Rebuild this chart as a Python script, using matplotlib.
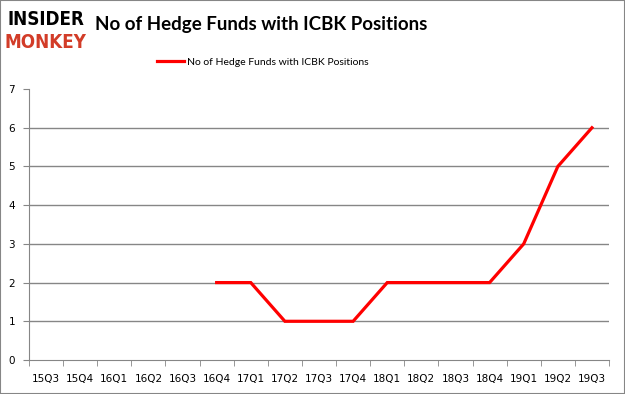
import matplotlib.pyplot as plt
from matplotlib.patches import Rectangle

quarters = ["15Q3", "15Q4", "16Q1", "16Q2", "16Q3", "16Q4", "17Q1", "17Q2", "17Q3",
            "17Q4", "18Q1", "18Q2", "18Q3", "18Q4", "19Q1", "19Q2", "19Q3"]
funds = [None, None, None, None, None, 2, 2, 1, 1, 1, 2, 2, 2, 2, 3, 5, 6]

fig = plt.figure(figsize=(6.25, 3.94), dpi=100)
ax = fig.add_axes([0.0464, 0.0863, 0.928, 0.6877])

xs = [i for i, v in enumerate(funds) if v is not None]
ys = [v for v in funds if v is not None]
ax.plot(xs, ys, color="#ff0000", lw=2.3, solid_joinstyle="miter",
        label="No of Hedge Funds with ICBK Positions")

ax.set_xlim(-0.5, len(quarters) - 0.5)
ax.set_ylim(0, 7)
ax.set_yticks(range(8))
ax.set_xticks(range(len(quarters)))
ax.set_xticklabels(quarters)
ax.set_xticks([i - 0.5 for i in range(len(quarters) + 1)], minor=True)
for y in range(1, 7):
    ax.axhline(y, color="#868686", lw=1, zorder=0)
for s in ["top", "right"]:
    ax.spines[s].set_visible(False)
for s in ["left", "bottom"]:
    ax.spines[s].set_color("#868686")
ax.tick_params(axis="x", which="major", length=0, pad=10, labelsize=7.5)
ax.tick_params(axis="x", which="minor", length=4, color="#868686")
ax.tick_params(axis="y", length=4, color="#868686", labelsize=7.5, pad=6)

fig.text(0.418, 0.937, "No of Hedge Funds with ICBK Positions", ha="center", va="center",
         fontsize=13.5, fontweight="bold", family="Lato")
fig.text(0.073, 0.95, "INSIDER", fontsize=13.5, fontweight="heavy", family="DejaVu Sans",
         stretch="condensed", color="black", va="center", ha="center")
fig.text(0.073, 0.893, "MONKEY", fontsize=13.5, fontweight="heavy", family="DejaVu Sans",
         stretch="condensed", color="#d23c28", va="center", ha="center")
ax.legend(loc="center", bbox_to_anchor=(0.403, 1.10), frameon=False,
          prop={"family": "Lato", "size": 7.5},
          handlelength=2.6, handletextpad=0.2)

fig.patches.append(Rectangle((0, 0), 1, 1, transform=fig.transFigure, fill=False,
                             edgecolor="#868686", lw=1.5))
fig.savefig("out.png")
